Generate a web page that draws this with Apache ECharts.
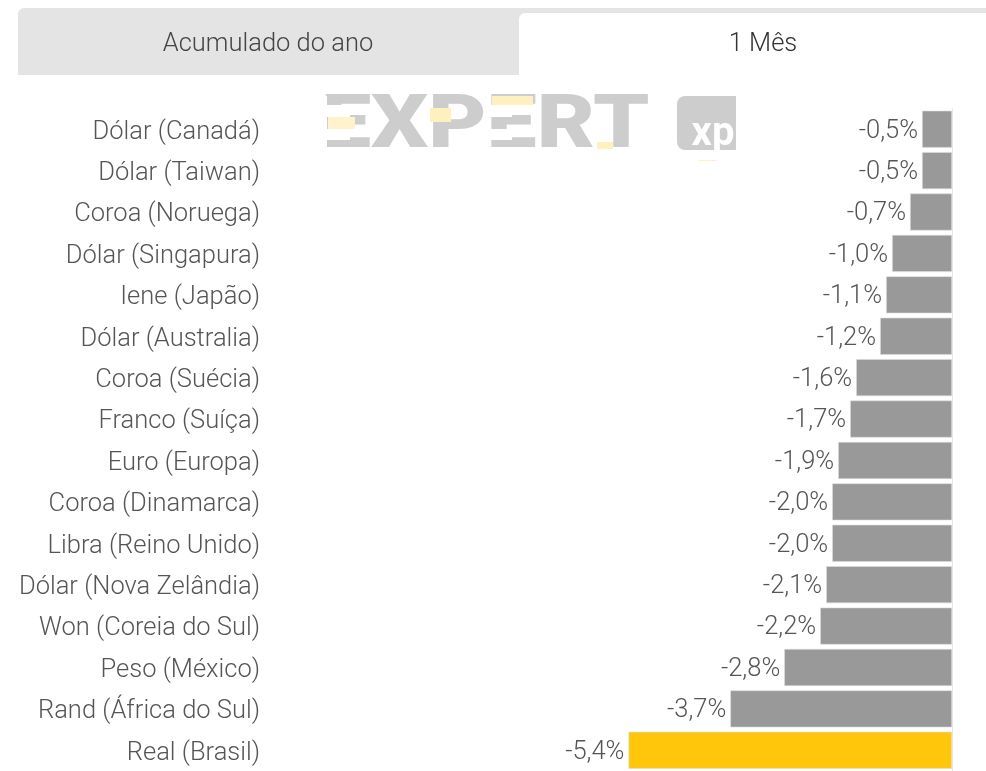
<!DOCTYPE html>
<html>
<head>
<meta charset="utf-8">
<style>
html, body { margin: 0; padding: 0; background: #fff; }
#main { width: 986px; height: 771px; }
</style>
<script src="https://cdn.jsdelivr.net/npm/echarts@6/dist/echarts.min.js"></script>
</head>
<body>
<div id="main"></div>
<script>
var categories = ['Dólar (Canadá)', 'Dólar (Taiwan)', 'Coroa (Noruega)', 'Dólar (Singapura)', 'Iene (Japão)', 'Dólar (Australia)', 'Coroa (Suécia)', 'Franco (Suíça)', 'Euro (Europa)', 'Coroa (Dinamarca)', 'Libra (Reino Unido)', 'Dólar (Nova Zelândia)', 'Won (Coreia do Sul)', 'Peso (México)', 'Rand (África do Sul)', 'Real (Brasil)'];
var values = [-0.5, -0.5, -0.7, -1.0, -1.1, -1.2, -1.6, -1.7, -1.9, -2.0, -2.0, -2.1, -2.2, -2.8, -3.7, -5.4];
var tabLabels = ['Acumulado do ano', '1 Mês'];

var FONT = 'Roboto';
var TEXT = '#555555';

var myChart = echarts.init(document.getElementById('main'), null, { renderer: 'canvas' });

var option = {
	animation: false,
	textStyle: { fontFamily: FONT },
	grid: { left: 263, width: 689, top: 108.5, height: 666 },
	xAxis: {
		type: 'value',
		min: -11.5,
		max: 0,
		show: false
	},
	yAxis: {
		type: 'category',
		data: categories,
		inverse: true,
		position: 'left',
		axisLine: { show: false },
		axisTick: { show: false },
		axisLabel: {
			margin: 3,
			fontFamily: FONT,
			fontWeight: 300,
			fontSize: 25.5,
			color: TEXT,
			verticalAlign: 'top',
			lineHeight: 6
		}
	},
	series: [{
		type: 'bar',
		barWidth: 37,
		data: values.map(function(v) {
			// so o Brasil fica amarelo
			return { value: v, itemStyle: { color: v === -5.4 ? '#ffc60b' : '#999999' } };
		}),
		itemStyle: { borderColor: '#dedede', borderWidth: 0.6 },
		label: {
			show: true,
			position: 'left',
			distance: 4,
			offset: [0, 2],
			fontFamily: FONT,
			fontWeight: 300,
			fontSize: 25.5,
			color: TEXT,
			formatter: function(p) {
				return p.value.toFixed(1).replace('.', ',') + '%';
			}
		},
		markLine: {
			silent: true,
			symbol: 'none',
			label: { show: false },
			lineStyle: { color: '#e6e6e6', width: 1, type: 'solid' },
			data: [{ xAxis: 0 }]
		}
	}],
	graphic: [
		// abas
		{ type: 'rect', z: 0, shape: { x: 18, y: 8, width: 968, height: 67, r: [6, 0, 0, 0] }, style: { fill: '#e4e4e4' } },
		{ type: 'rect', z: 1, shape: { x: 519, y: 13, width: 467, height: 67, r: [6, 0, 0, 0] }, style: { fill: '#ffffff' } },
		{ type: 'text', z: 2, x: 268, y: 45, style: { text: tabLabels[0], font: '300 25.5px Roboto', fill: '#444444', textAlign: 'center', textVerticalAlign: 'middle' } },
		{ type: 'text', z: 2, x: 763, y: 45, style: { text: tabLabels[1], font: '300 25.5px Roboto', fill: '#333333', textAlign: 'center', textVerticalAlign: 'middle' } },
		// marca d'agua
		{ type: 'text', z: 2, x: 321, y: 128, scaleX: 1.21, style: { text: 'EXPERT', font: '900 74px Roboto', fill: '#cdcdcd', textAlign: 'left', textVerticalAlign: 'middle' } },
		{ type: 'rect', z: 3, shape: { x: 318, y: 96, width: 9, height: 55 }, style: { fill: '#ffffff' } },
		{ type: 'rect', z: 3, shape: { x: 326, y: 105, width: 24, height: 12 }, style: { fill: '#ffffff' } },
		{ type: 'rect', z: 3, shape: { x: 326, y: 129, width: 24, height: 11 }, style: { fill: '#ffffff' } },
		{ type: 'rect', z: 3, shape: { x: 488, y: 105, width: 24, height: 12 }, style: { fill: '#ffffff' } },
		{ type: 'rect', z: 3, shape: { x: 488, y: 129, width: 24, height: 11 }, style: { fill: '#ffffff' } },
		{ type: 'rect', z: 3, shape: { x: 328, y: 117, width: 27, height: 12 }, style: { fill: '#fff3cd' } },
		{ type: 'rect', z: 3, shape: { x: 430, y: 108, width: 21, height: 14 }, style: { fill: '#fff0c0' } },
		{ type: 'rect', z: 3, shape: { x: 492, y: 96, width: 41, height: 9 }, style: { fill: '#fff0c0' } },
		{ type: 'rect', z: 3, shape: { x: 597, y: 142, width: 16, height: 7 }, style: { fill: '#fff0c0' } },
		{ type: 'rect', z: 2, shape: { x: 677, y: 96, width: 59, height: 54, r: [8, 0, 0, 8] }, style: { fill: '#cdcdcd' } },
		{ type: 'text', z: 3, x: 713, y: 135, style: { text: 'xp', font: '700 40px Roboto', fill: '#ffffff', textAlign: 'center', textVerticalAlign: 'middle' } },
		{ type: 'rect', z: 3, shape: { x: 699, y: 160, width: 17, height: 1 }, style: { fill: '#fff0c0' } }
	]
};
myChart.setOption(option, true);
</script>
</body>
</html>
